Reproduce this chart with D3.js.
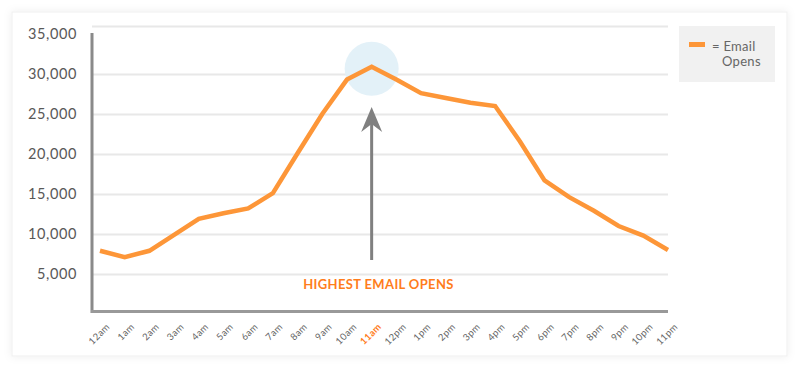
<!DOCTYPE html>
<html>
<head>
<meta charset="utf-8">
<script src="https://cdn.jsdelivr.net/npm/d3@7"></script>
<style>
  html, body { margin: 0; padding: 0; background: #ffffff; }
  svg { display: block; }
</style>
</head>
<body>
<svg id="chart" width="800" height="369"></svg>
<script>
// ---- data ----
const hours = ["12am","1am","2am","3am","4am","5am","6am","7am","8am","9am","10am","11am",
               "12pm","1pm","2pm","3pm","4pm","5pm","6pm","7pm","8pm","9pm","10pm","11pm"];
const opens = [7900, 7100, 7900, 9900, 11900, 12600, 13200, 15100, 20100, 25000, 29300, 30900,
               29300, 27600, 27000, 26400, 26000, 21600, 16700, 14600, 12900, 11000, 9800, 8000];
const yTickValues = [5000, 10000, 15000, 20000, 25000, 30000, 35000];
const gridValues = [5000, 10000, 15000, 20000, 25000, 30000, 36000];
const peakHour = "11am";
const seriesName = ["= Email", "Opens"];
const annotation = "HIGHEST EMAIL OPENS";

// ---- layout ----
const svg = d3.select("#chart");
const orange = "#fd9638";
const textOrange = "#ff7d1c";

const defs = svg.append("defs");
const f = defs.append("filter").attr("id", "shadow").attr("x", "-5%").attr("y", "-5%").attr("width", "110%").attr("height", "110%");
f.append("feDropShadow").attr("dx", 0).attr("dy", 0).attr("stdDeviation", 4).attr("flood-color", "#000").attr("flood-opacity", 0.07);

// card
svg.append("rect").attr("x", 12).attr("y", 12).attr("width", 775).attr("height", 344)
  .attr("fill", "#fff").attr("stroke", "#efefef").attr("filter", "url(#shadow)");

const x = d3.scalePoint().domain(hours).range([100, 668]);
const y = d3.scaleLinear().domain([0, 36000]).range([314, 26]);

// gridlines
svg.append("g").selectAll("line").data(gridValues).join("line")
  .attr("x1", 92).attr("x2", 668)
  .attr("y1", d => Math.round(y(d)) + 0.5).attr("y2", d => Math.round(y(d)) + 0.5)
  .attr("stroke", "#e8e8e8").attr("stroke-width", 2);

// y axis labels
const yAxis = d3.axisLeft(y).tickValues(yTickValues).tickSize(0).tickPadding(0)
  .tickFormat(d3.format(","));
const gy = svg.append("g").attr("transform", "translate(77,0)").call(yAxis);
gy.select(".domain").remove();
gy.selectAll("text")
  .attr("dy", "0.32em")
  .attr("fill", "#585858")
  .style("font-family", "Lato, 'Open Sans', sans-serif")
  .style("font-size", "14.5px")
  .style("letter-spacing", "0.6px");

// highlight circle at peak
const peakVal = opens[hours.indexOf(peakHour)];
svg.append("circle").attr("cx", x(peakHour)).attr("cy", y(peakVal) + 2).attr("r", 27)
  .attr("fill", "#e3f1f8");

// axes lines
svg.append("line").attr("x1", 92).attr("x2", 92).attr("y1", 33).attr("y2", 313)
  .attr("stroke", "#8a8a8a").attr("stroke-width", 3);
svg.append("line").attr("x1", 91).attr("x2", 668).attr("y1", 311.5).attr("y2", 311.5)
  .attr("stroke", "#999").attr("stroke-width", 3);

// x axis labels
const xAxis = d3.axisBottom(x).tickSize(0).tickPadding(0);
const gx = svg.append("g").call(xAxis);
gx.select(".domain").remove();
gx.selectAll(".tick").attr("transform", d => `translate(${x(d) + 8},325)`);
gx.selectAll("text")
  .attr("x", 0).attr("y", 0).attr("dy", "0.35em")
  .attr("text-anchor", "end")
  .attr("transform", "rotate(-45)")
  .attr("fill", d => d === peakHour ? textOrange : "#666")
  .style("font-weight", d => d === peakHour ? "bold" : "normal")
  .style("font-family", "Lato, 'Open Sans', sans-serif")
  .style("font-size", "9.5px")
  .style("letter-spacing", "0.4px");

// line
const line = d3.line().x((d, i) => x(hours[i])).y(d => y(d));
svg.append("path").datum(opens).attr("d", line)
  .attr("fill", "none").attr("stroke", orange).attr("stroke-width", 4.5)
  .attr("stroke-linejoin", "miter");

// arrow annotation
const ax = x(peakHour);
svg.append("line").attr("x1", ax).attr("x2", ax).attr("y1", 260).attr("y2", 124)
  .attr("stroke", "#808080").attr("stroke-width", 3);
svg.append("path")
  .attr("d", `M${ax},107 L${ax + 10.5},132 L${ax},124 L${ax - 10.5},132 Z`)
  .attr("fill", "#808080");

svg.append("text").attr("x", 378.5).attr("y", 289).attr("text-anchor", "middle")
  .attr("fill", textOrange)
  .style("font-family", "Lato, 'Open Sans', sans-serif")
  .style("font-weight", "bold").style("font-size", "13px").style("letter-spacing", "0.35px")
  .text(annotation);

// legend
svg.append("rect").attr("x", 679).attr("y", 26).attr("width", 96).attr("height", 56).attr("fill", "#f1f1f1");
svg.append("rect").attr("x", 689).attr("y", 42).attr("width", 16).attr("height", 5).attr("fill", orange);
svg.append("text").attr("x", 712).attr("y", 51).attr("fill", "#666")
  .style("font-family", "Lato, 'Open Sans', sans-serif").style("font-size", "13px")
  .style("letter-spacing", "0.3px").text(seriesName[0]);
svg.append("text").attr("x", 722).attr("y", 66).attr("fill", "#666")
  .style("font-family", "Lato, 'Open Sans', sans-serif").style("font-size", "13px")
  .style("letter-spacing", "0.3px").text(seriesName[1]);
</script>
</body>
</html>
